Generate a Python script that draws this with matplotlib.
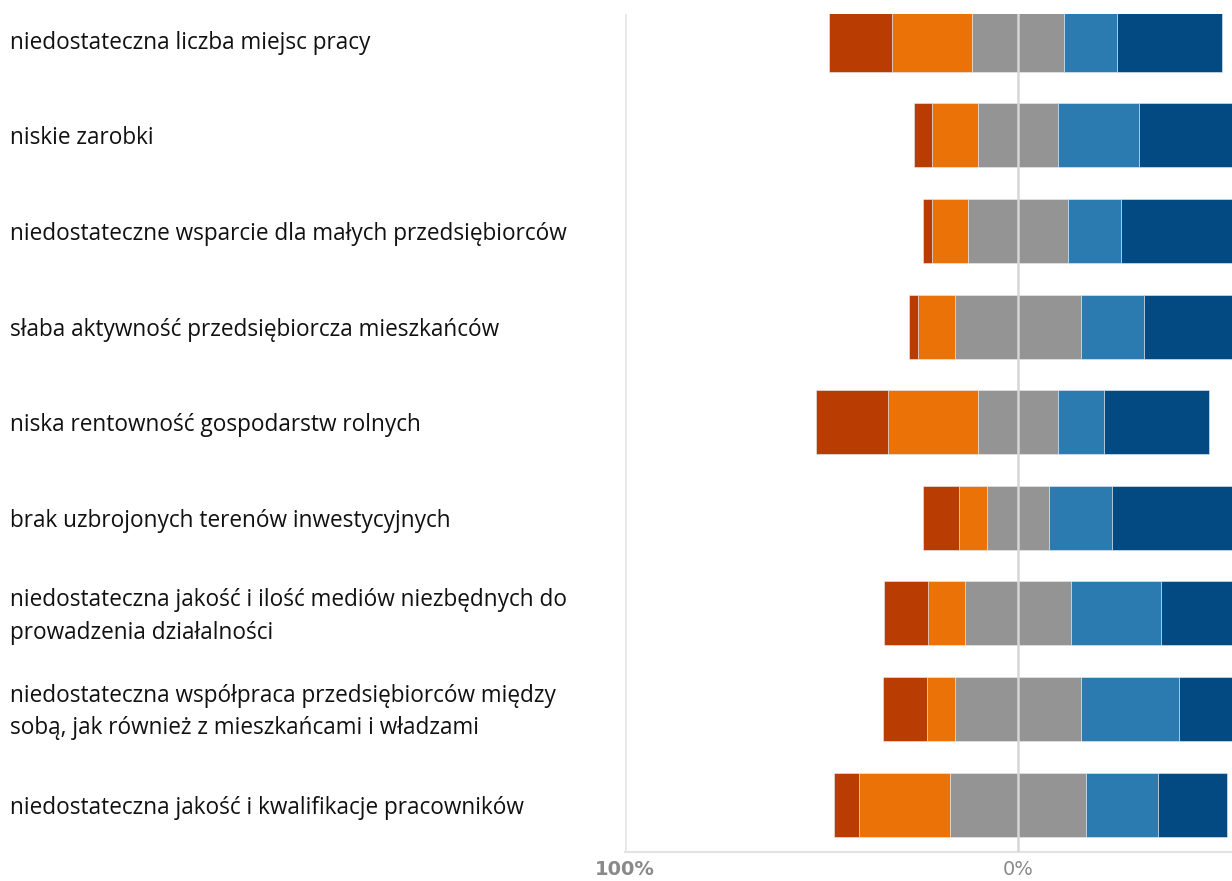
import numpy as np
import matplotlib.pyplot as plt
from matplotlib.transforms import blended_transform_factory, offset_copy

# Categories (top to bottom)
categories = [
    "niedostateczna liczba miejsc pracy",
    "niskie zarobki",
    "niedostateczne wsparcie dla małych przedsiębiorców",
    "słaba aktywność przedsiębiorcza mieszkańców",
    "niska rentowność gospodarstw rolnych",
    "brak uzbrojonych terenów inwestycyjnych",
    "niedostateczna jakość i ilość mediów niezbędnych do\nprowadzenia działalności",
    "niedostateczna współpraca przedsiębiorców między\nsobą, jak również z mieszkańcami i władzami",
    "niedostateczna jakość i kwalifikacje pracowników",
]

# Shares (%) of answers, from most negative to most positive
strongly_neg = [16.0, 4.6, 2.3, 2.3, 18.1, 9.2, 11.2, 11.2, 6.4]
neg = [20.4, 11.5, 9.2, 9.2, 22.9, 6.9, 9.4, 6.9, 23.2]
neutral = [23.2, 20.6, 25.2, 32.3, 20.6, 16.0, 27.2, 32.3, 34.4]
pos = [13.7, 20.6, 13.7, 15.8, 11.5, 15.8, 22.9, 24.9, 18.3]
strongly_pos = [26.7, 42.7, 49.6, 40.4, 26.9, 52.1, 29.3, 24.7, 17.7]

colors = ['#b93c02', '#ea7207', '#949494', '#2c7bb0', '#024a81']

fig = plt.figure(figsize=(12.32, 8.81), dpi=100)
ax = fig.add_axes([625 / 1232, 1 - 852 / 881, 1 - 625 / 1232, (852 - 14) / 881])

y = np.arange(len(categories))
h = 0.67
sn = np.array(strongly_neg)
ng = np.array(neg)
nu = np.array(neutral)
ps = np.array(pos)
sp = np.array(strongly_pos)

ec = dict(edgecolor='#e8eef4', linewidth=0.4)
# left side
ax.barh(y, -nu / 2, left=0, height=h, color=colors[2], **ec, zorder=2)
ax.barh(y, -ng, left=-nu / 2, height=h, color=colors[1], **ec, zorder=2)
ax.barh(y, -sn, left=-nu / 2 - ng, height=h, color=colors[0], **ec, zorder=2)
# right side
ax.barh(y, nu / 2, left=0, height=h, color=colors[2], **ec, zorder=2)
ax.barh(y, ps, left=nu / 2, height=h, color=colors[3], **ec, zorder=2)
ax.barh(y, sp, left=nu / 2 + ps, height=h, color=colors[4], **ec, zorder=2)

ax.axvline(-100, color='#e6e6e6', lw=1.8, zorder=1)
ax.axvline(0, color='#d6d6d6', lw=1.8, zorder=3)

ax.set_xlim(-100, 54.45)
ax.set_ylim(8.495, -0.27)

for s in ['top', 'right', 'left']:
    ax.spines[s].set_visible(False)
ax.spines['bottom'].set_color('#e3e3e3')
ax.spines['bottom'].set_linewidth(1.5)
ax.set_yticks([])
ax.set_xticks([-100, 0])
ax.set_xticklabels(['100%', '0%'])
ax.tick_params(axis='x', length=0, pad=6, labelsize=14, labelcolor='#8a8a8a')
ax.get_xticklabels()[0].set_fontweight('bold')

# category labels on the left
trans = blended_transform_factory(fig.transFigure, ax.transData)
trans = offset_copy(trans, fig=fig, y=-3, units='dots')
for yi, lab in zip(y, categories):
    fig.text(10 / 1232, yi, lab, transform=trans, ha='left', va='center',
             fontsize=16.3, family='Open Sans', color='#111111', linespacing=1.48)

fig.savefig('out.png', dpi=100)
